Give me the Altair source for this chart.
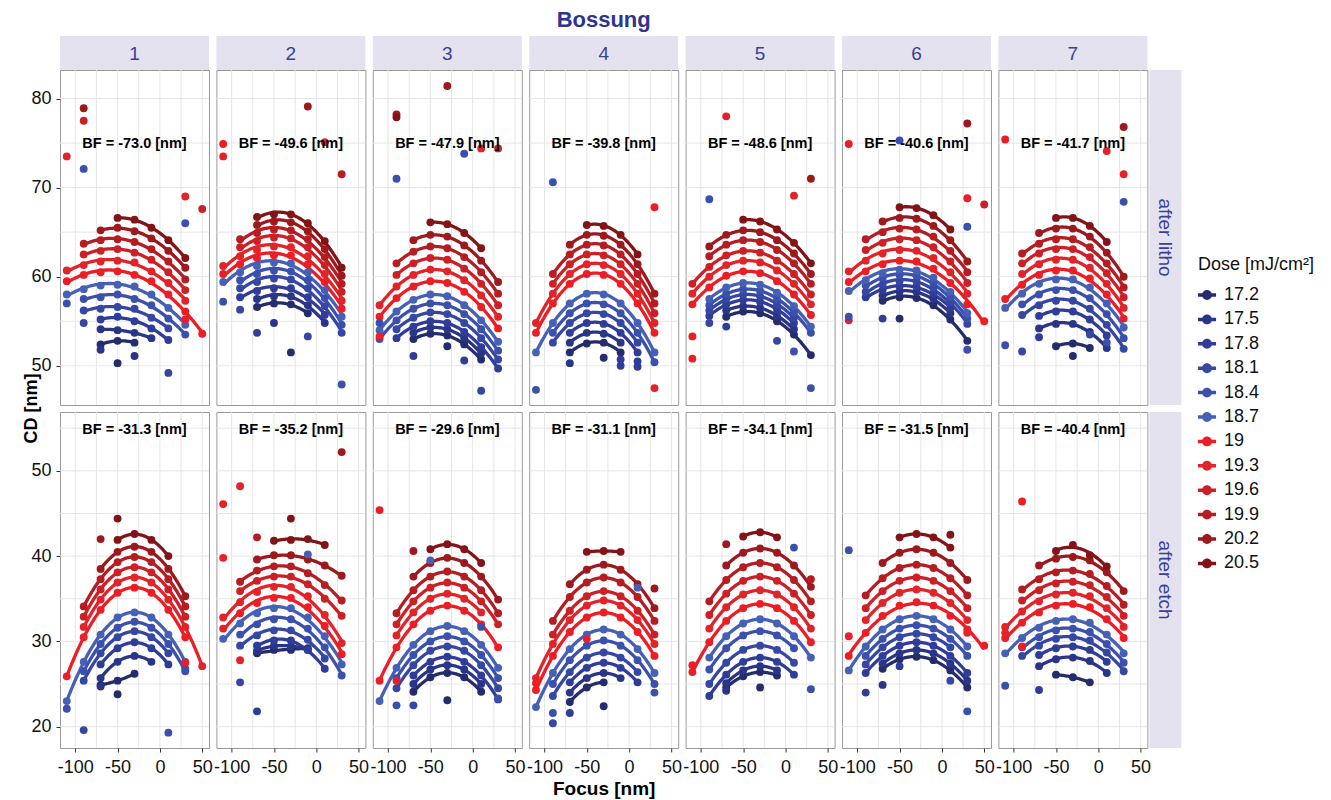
import altair as alt
import pandas as pd

N = None
FOCUS = [-110, -90, -70, -50, -30, -10, 10, 30, 50]
DOSES = ["17.2", "17.5", "17.8", "18.1", "18.4", "18.7", "19", "19.3", "19.6", "19.9", "20.2", "20.5"]
COLORS = ["#252C6B", "#2A3488", "#2F3D98", "#3546A3", "#3B50AD", "#4660B6",
          "#EC1D25", "#E0242A", "#CC2027", "#B51D23", "#9C191E", "#821418"]
PANELS = ["1", "2", "3", "4", "5", "6", "7"]
STAGES = ["after litho", "after etch"]
BF_LITHO = [-73.0, -49.6, -47.9, -39.8, -48.6, -40.6, -41.7]
BF_ETCH = [-31.3, -35.2, -29.6, -31.1, -34.1, -31.5, -40.4]

# CD [nm] per dose (rows 17.2 ... 20.5) at FOCUS points
LITHO_1 = [
    [N, N, 52.4, 52.8, 52.6, N, N, N, N],
    [N, N, 54.1, 54.0, 53.7, 53.1, N, N, N],
    [N, N, 55.2, 55.5, 55.0, 54.2, 52.9, N, N],
    [N, 56.2, 56.4, 56.6, 56.4, 55.4, 54.2, N, N],
    [N, 57.5, 57.7, 58.0, 57.5, 56.8, 55.3, 53.5, N],
    [58.0, 58.6, 59.0, 59.1, 58.9, 58.0, 56.5, 54.6, N],
    [59.5, 60.2, 60.5, 60.6, 60.2, 59.5, 58.0, 56.1, 53.6],
    [60.7, 61.3, 61.7, 61.8, 61.6, 60.6, 59.3, 57.3, N],
    [N, 62.5, 62.9, 63.1, 62.7, 61.9, 60.5, 58.5, N],
    [N, 63.7, 64.1, 64.2, 63.9, 63.1, 61.7, 59.7, N],
    [N, N, 65.2, 65.5, 65.1, 64.3, 62.9, 61.0, N],
    [N, N, N, 66.6, 66.4, 65.5, 64.1, 62.1, N],
]
LITHO_2 = [
    [N, N, 56.6, 57.0, 56.9, 55.9, N, N, N],
    [N, N, 57.5, 57.8, 57.8, 56.8, 54.8, N, N],
    [N, 57.7, 58.4, 58.7, 58.7, 57.7, 55.7, N, N],
    [N, 58.7, 59.4, 59.8, 59.7, 58.7, 56.7, 53.7, N],
    [N, 59.6, 60.3, 60.7, 60.6, 59.6, 57.6, 54.6, N],
    [59.4, 60.5, 61.2, 61.6, 61.5, 60.5, 58.5, 55.5, N],
    [60.3, 61.4, 62.1, 62.4, 62.4, 61.4, 59.4, 56.4, N],
    [61.2, 62.3, 63.0, 63.4, 63.3, 62.3, 60.3, 57.3, N],
    [N, 63.3, 64.0, 64.4, 64.3, 63.3, 61.3, 58.3, N],
    [N, 64.2, 64.9, 65.3, 65.2, 64.2, 62.2, 59.2, N],
    [N, N, 65.8, 66.2, 66.1, 65.1, 63.1, 60.1, N],
    [N, N, 66.7, 67.0, 67.0, 66.0, 64.0, 61.0, N],
]
LITHO_3 = [
    [N, N, 53.0, 53.6, 53.4, 52.4, 50.7, N, N],
    [N, N, 53.7, 54.3, 54.1, 53.1, 51.4, N, N],
    [N, 53.1, 54.4, 55.0, 54.8, 53.8, 52.1, 49.7, N],
    [N, 54.1, 55.4, 56.0, 55.8, 54.8, 53.1, 50.7, N],
    [53.0, 55.1, 56.4, 57.0, 56.8, 55.8, 54.1, 51.7, N],
    [54.0, 56.1, 57.4, 58.0, 57.8, 56.8, 55.1, 52.7, N],
    [55.5, 57.6, 58.9, 59.5, 59.3, 58.3, 56.6, 54.2, N],
    [56.8, 58.9, 60.2, 60.8, 60.6, 59.6, 57.9, 55.5, N],
    [N, 60.2, 61.5, 62.1, 61.9, 60.9, 59.2, 56.8, N],
    [N, 61.5, 62.8, 63.4, 63.2, 62.2, 60.5, 58.1, N],
    [N, N, 64.1, 64.7, 64.5, 63.5, 61.8, 59.4, N],
    [N, N, N, 66.1, 65.9, 64.9, 63.2, N, N],
]
LITHO_4 = [
    [N, N, 51.5, 52.5, 52.6, 51.5, N, N, N],
    [N, N, 52.6, 53.7, 53.6, 52.6, N, N, N],
    [N, N, 53.7, 54.8, 54.7, 53.7, 51.5, N, N],
    [N, 52.6, 54.8, 55.9, 55.8, 54.8, 52.6, N, N],
    [N, 53.7, 55.9, 57.0, 56.9, 55.9, 53.7, 50.4, N],
    [51.5, 54.8, 57.0, 58.1, 58.0, 57.0, 54.8, 51.5, N],
    [53.7, 57.0, 59.2, 60.3, 60.2, 59.2, 57.0, 53.7, N],
    [54.8, 58.1, 60.3, 61.4, 61.3, 60.3, 58.1, 54.8, N],
    [N, 59.2, 61.4, 62.5, 62.4, 61.4, 59.2, 55.9, N],
    [N, 60.3, 62.5, 63.6, 63.5, 62.5, 60.3, 57.0, N],
    [N, N, 63.6, 64.7, 64.6, 63.6, 61.4, 58.1, N],
    [N, N, N, 65.8, 65.7, 64.7, 62.5, N, N],
]
LITHO_5 = [
    [N, N, 55.5, 56.1, 55.9, 55.0, 53.5, 51.2, N],
    [N, N, 56.2, 56.7, 56.5, 55.6, 54.1, N, N],
    [N, 55.6, 56.9, 57.4, 57.2, 56.3, 54.8, N, N],
    [N, 56.2, 57.5, 58.0, 57.8, 56.9, 55.4, N, N],
    [N, 56.8, 58.1, 58.6, 58.4, 57.5, 56.0, 53.7, N],
    [N, 57.5, 58.8, 59.3, 59.1, 58.2, 56.7, 54.4, N],
    [56.9, 58.8, 60.1, 60.6, 60.4, 59.5, 58.0, 55.7, N],
    [58.1, 60.0, 61.3, 61.8, 61.6, 60.7, 59.2, 56.9, N],
    [59.2, 61.1, 62.4, 62.9, 62.7, 61.8, 60.3, 58.0, N],
    [N, 62.3, 63.6, 64.1, 63.9, 63.0, 61.5, 59.2, N],
    [N, 63.4, 64.7, 65.2, 65.0, 64.1, 62.6, 60.3, N],
    [N, N, N, 66.4, 66.2, 65.3, 63.8, 61.5, N],
]
LITHO_6 = [
    [N, N, 57.3, 57.7, 57.6, 56.8, 55.2, 52.8, N],
    [N, N, 57.9, 58.3, 58.3, 57.5, 55.9, N, N],
    [N, 57.7, 58.5, 58.9, 58.9, 58.1, 56.5, N, N],
    [N, 58.3, 59.1, 59.5, 59.5, 58.7, 57.1, 54.7, N],
    [N, 59.0, 59.8, 60.2, 60.1, 59.3, 57.7, 55.3, N],
    [58.4, 59.6, 60.4, 60.8, 60.7, 59.9, 58.3, 55.9, N],
    [59.4, 60.6, 61.4, 61.8, 61.7, 60.9, 59.3, 56.9, 55.0],
    [60.6, 61.8, 62.6, 63.0, 62.9, 62.1, 60.5, 58.1, N],
    [N, 63.0, 63.8, 64.2, 64.1, 63.3, 61.7, 59.3, N],
    [N, 64.2, 65.0, 65.4, 65.3, 64.5, 62.9, 60.5, N],
    [N, N, 66.2, 66.6, 66.5, 65.7, 64.1, 61.7, N],
    [N, N, N, 67.8, 67.7, 66.9, 65.3, N, N],
]
LITHO_7 = [
    [N, N, N, 52.2, 52.5, 52.0, N, N, N],
    [N, N, 54.2, 54.7, 54.7, 53.8, 52.0, N, N],
    [N, N, 55.6, 56.1, 56.1, 55.2, 53.4, N, N],
    [N, 55.7, 56.8, 57.3, 57.3, 56.4, 54.6, 51.9, N],
    [N, 56.9, 58.0, 58.5, 58.5, 57.6, 55.8, 53.1, N],
    [56.5, 58.1, 59.2, 59.7, 59.7, 58.8, 57.0, 54.3, N],
    [57.5, 59.1, 60.2, 60.7, 60.7, 59.8, 58.0, 55.3, N],
    [N, 60.3, 61.4, 61.9, 61.9, 61.0, 59.2, 56.5, N],
    [N, 61.5, 62.6, 63.1, 63.1, 62.2, 60.4, 57.7, N],
    [N, 62.6, 63.7, 64.2, 64.2, 63.3, 61.5, 58.8, N],
    [N, N, 64.9, 65.4, 65.4, 64.5, 62.7, 60.0, N],
    [N, N, N, 66.6, 66.6, 65.7, 63.9, N, N],
]
ETCH_1 = [
    [N, N, 24.9, 25.4, 26.2, N, N, N, N],
    [N, N, 25.7, 27.6, 28.3, 27.6, N, N, N],
    [N, N, 27.3, 29.2, 29.9, 29.2, 27.3, N, N],
    [N, 25.4, 28.6, 30.5, 31.2, 30.5, 28.6, N, N],
    [N, 26.5, 29.7, 31.6, 32.3, 31.6, 29.7, 26.5, N],
    [23.0, 27.6, 30.8, 32.8, 33.4, 32.8, 30.8, 27.6, N],
    [25.9, 30.5, 33.7, 35.7, 36.3, 35.7, 33.7, 30.5, N],
    [N, 31.7, 34.9, 36.9, 37.5, 36.9, 34.9, 31.7, 27.1],
    [N, 32.9, 36.1, 38.1, 38.7, 38.1, 36.1, 32.9, N],
    [N, 34.1, 37.3, 39.3, 39.9, 39.3, 37.3, 34.1, N],
    [N, N, 38.5, 40.5, 41.1, 40.5, 38.5, 35.3, N],
    [N, N, N, 41.9, 42.6, 41.9, 40.0, N, N],
]
ETCH_2 = [
    [N, N, 28.6, 29.0, 29.0, 29.2, N, N, N],
    [N, N, 28.9, 29.5, 29.4, 29.0, N, N, N],
    [N, N, 29.5, 30.1, 30.1, 29.0, 26.8, N, N],
    [N, 29.5, 30.7, 31.3, 31.3, 30.2, 28.0, N, N],
    [N, 30.8, 32.0, 32.6, 32.6, 31.5, 29.3, 26.0, N],
    [30.3, 32.1, 33.3, 33.9, 33.9, 32.8, 30.6, 27.3, N],
    [31.5, 33.3, 34.5, 35.1, 35.1, 34.0, 31.8, 28.5, N],
    [32.8, 34.6, 35.8, 36.4, 36.4, 35.3, 33.1, 29.8, N],
    [N, 35.9, 37.1, 37.6, 37.6, 36.7, 35.0, 33.0, N],
    [N, 37.0, 38.3, 38.8, 38.8, 38.0, 36.6, 34.8, N],
    [N, N, 39.6, 40.1, 40.1, 39.6, 38.9, 37.7, N],
    [N, N, N, 41.8, 41.9, 42.0, 41.3, N, N],
]
ETCH_3 = [
    [N, N, 24.1, 25.8, 26.3, 25.8, 24.1, N, N],
    [N, N, 25.0, 26.7, 27.2, 26.7, 25.0, N, N],
    [N, N, 26.0, 27.6, 28.2, 27.6, 26.0, 23.2, N],
    [N, 24.5, 27.2, 28.9, 29.4, 28.9, 27.2, 24.5, N],
    [N, 25.7, 28.4, 30.0, 30.6, 30.0, 28.4, 25.7, N],
    [23.0, 26.9, 29.6, 31.2, 31.8, 31.2, 29.6, 26.9, N],
    [25.4, 29.3, 32.0, 33.6, 34.2, 33.6, 32.0, 29.3, N],
    [N, 30.7, 33.4, 35.0, 35.6, 35.0, 33.4, N, N],
    [N, 32.0, 34.7, 36.3, 36.9, 36.3, 34.7, 32.0, N],
    [N, 33.3, 36.0, 37.6, 38.2, 37.6, 36.0, 33.3, N],
    [N, N, 37.6, 39.2, 39.8, 39.2, 37.6, 34.9, N],
    [N, N, N, 40.8, 41.4, 40.8, 39.2, N, N],
]
ETCH_4 = [
    [N, N, 22.9, 24.6, 25.2, N, N, N, N],
    [N, N, 24.0, 25.7, 26.3, 25.7, N, N, N],
    [N, N, 25.2, 26.9, 27.5, 26.9, 25.2, N, N],
    [N, 23.6, 26.4, 28.1, 28.7, 28.1, 26.4, N, N],
    [N, 25.0, 27.8, 29.5, 30.1, 29.5, 27.8, 25.0, N],
    [22.3, 26.3, 29.1, 30.8, 31.4, 30.8, 29.1, 26.3, N],
    [24.3, 28.3, 31.1, 32.8, 33.4, 32.8, 31.1, 28.3, N],
    [25.7, 29.7, 32.5, 34.2, 34.8, 34.2, 32.5, 29.7, N],
    [N, 30.8, 33.6, 35.3, 35.9, 35.3, 33.6, 30.8, N],
    [N, 32.4, 35.2, 36.9, 37.5, 36.9, 35.2, 32.4, N],
    [N, N, 36.7, 38.4, 39.0, 38.4, 36.7, 33.9, N],
    [N, N, N, 40.5, 40.6, 40.5, N, N, N],
]
ETCH_5 = [
    [N, N, 24.6, 25.9, 26.4, 26.0, N, N, N],
    [N, N, 25.1, 26.6, 27.1, 26.6, N, N, N],
    [N, 23.6, 26.1, 27.6, 28.1, 27.6, 26.1, N, N],
    [N, 25.0, 27.5, 29.0, 29.5, 29.0, 27.5, N, N],
    [N, 26.7, 29.2, 30.7, 31.2, 30.7, 29.2, N, N],
    [N, 28.1, 30.6, 32.1, 32.6, 32.1, 30.6, 28.1, N],
    [26.4, 29.9, 32.4, 33.9, 34.4, 33.9, 32.4, 29.9, N],
    [N, 31.5, 34.0, 35.5, 36.0, 35.5, 34.0, 31.5, N],
    [N, 33.1, 35.6, 37.1, 37.6, 37.1, 35.6, 33.1, N],
    [N, 34.7, 37.2, 38.7, 39.2, 38.7, 37.2, 34.7, N],
    [N, N, 38.9, 40.4, 40.9, 40.4, 38.9, 36.4, N],
    [N, N, N, 42.3, 42.8, 42.2, N, N, N],
]
ETCH_6 = [
    [N, N, 26.8, 27.9, 28.2, 27.8, 26.6, 24.6, N],
    [N, N, 27.4, 28.6, 29.0, 28.6, 27.4, 25.4, N],
    [N, 26.3, 28.3, 29.5, 29.9, 29.5, 28.3, 26.3, N],
    [N, 27.3, 29.3, 30.5, 30.9, 30.5, 29.3, N, N],
    [N, 28.3, 30.3, 31.5, 31.9, 31.5, 30.3, 28.3, N],
    [26.6, 29.4, 31.4, 32.6, 33.0, 32.6, 31.4, 29.4, N],
    [28.3, 31.0, 33.0, 34.2, 34.6, 34.2, 33.0, 31.0, 29.5],
    [N, 32.5, 34.5, 35.7, 36.1, 35.7, 34.5, 32.5, N],
    [N, 33.9, 35.9, 37.1, 37.5, 37.1, 35.9, 33.9, N],
    [N, 35.4, 37.4, 38.6, 39.0, 38.6, 37.4, 35.4, N],
    [N, N, 39.2, 40.4, 40.8, 40.4, 39.2, 37.2, N],
    [N, N, N, 42.2, 42.6, 42.2, 41.0, N, N],
]
ETCH_7 = [
    [N, N, N, 26.1, 25.8, 25.2, N, N, N],
    [N, N, 27.1, 27.9, 28.1, 27.7, 26.3, N, N],
    [N, N, 28.4, 29.2, 29.4, 29.0, 27.6, N, N],
    [N, 28.3, 29.5, 30.3, 30.5, 30.1, 28.7, 26.5, N],
    [N, 29.3, 30.5, 31.3, 31.5, 31.1, 29.7, 27.5, N],
    [28.6, 30.4, 31.6, 32.4, 32.6, 32.2, 30.8, 28.6, N],
    [30.4, 32.2, 33.4, 34.2, 34.4, 34.0, 32.6, 30.4, N],
    [31.7, 33.5, 34.7, 35.5, 35.7, 35.3, 33.9, 31.7, N],
    [N, 34.8, 36.0, 36.8, 37.0, 36.6, 35.2, 33.0, N],
    [N, 36.1, 37.3, 38.1, 38.3, 37.9, 36.5, 34.3, N],
    [N, N, 38.9, 39.7, 39.9, 39.5, 38.1, 35.9, N],
    [N, N, N, 40.6, 41.3, 40.1, 38.8, N, N],
]

# points left out of the fits: (focus, dose, CD)
LITHO_OUT_1 = [(-110, "19.3", 73.5), (-90, "20.2", 78.9), (-90, "19.6", 77.5), (-90, "18.4", 72.1),
               (30, "19.3", 69.0), (50, "19.6", 67.6), (30, "18.4", 66.0), (-110, "18.4", 57.0),
               (-90, "18.1", 54.8), (-70, "17.5", 51.8), (-50, "17.2", 50.3), (-30, "17.5", 51.1),
               (10, "18.1", 49.2), (30, "19", 55.2)]
LITHO_OUT_2 = [(-110, "19", 74.9), (-110, "19.3", 73.5), (-10, "20.2", 79.1), (10, "19.3", 75.1),
               (30, "19.9", 71.5), (-70, "17.8", 53.7), (-50, "17.5", 54.8), (-30, "17.2", 51.5),
               (-10, "18.1", 53.3), (30, "18.4", 47.9), (-110, "18.4", 57.2), (-90, "18.1", 56.3)]
LITHO_OUT_3 = [(-30, "20.2", 81.4), (-90, "20.2", 78.2), (-90, "20.5", 77.9), (-90, "18.4", 71.0),
               (-10, "18.4", 73.8), (10, "19.3", 74.4), (30, "19.6", 74.4), (-110, "19", 53.3),
               (-70, "17.8", 51.1), (-30, "17.2", 52.2), (-10, "17.8", 50.6), (10, "18.1", 47.2),
               (-110, "18.4", 54.8)]
LITHO_OUT_4 = [(-90, "18.4", 70.6), (30, "19", 67.8), (30, "19", 47.5), (-110, "18.4", 47.3),
               (-70, "17.5", 50.3), (-30, "17.2", 50.9), (-10, "17.8", 50.7), (-10, "17.8", 50.0),
               (10, "17.8", 50.5), (10, "17.8", 49.9)]
LITHO_OUT_5 = [(-70, "19.3", 78.0), (-90, "18.4", 68.7), (10, "19.3", 69.1), (30, "20.2", 71.0),
               (-110, "19", 53.3), (-110, "19", 50.8), (-10, "18.1", 52.8), (10, "18.4", 51.6),
               (30, "18.4", 47.5), (-90, "18.1", 54.8), (-70, "17.8", 54.4)]
LITHO_OUT_6 = [(-110, "19", 74.9), (-50, "18.4", 75.3), (30, "20.2", 77.2), (30, "19", 68.8),
               (50, "19.6", 68.1), (30, "18.4", 65.6), (-110, "19", 55.1), (-110, "18.4", 55.5),
               (-70, "17.8", 55.3), (-50, "17.2", 55.3), (30, "18.4", 51.8)]
LITHO_OUT_7 = [(-110, "19", 75.4), (10, "19.3", 74.1), (30, "20.2", 76.8), (30, "19.3", 71.5),
               (30, "18.4", 68.4), (-110, "18.4", 52.3), (-90, "18.1", 51.6), (-10, "18.1", 53.5),
               (10, "18.4", 52.6), (-30, "17.2", 51.1), (-70, "17.8", 53.2)]
ETCH_OUT_1 = [(-110, "18.4", 22.1), (-90, "18.1", 19.6), (10, "18.4", 19.3), (-50, "20.5", 44.4),
              (-70, "20.2", 42.0), (30, "18.4", 26.8), (30, "19", 27.5), (-70, "17.5", 24.7),
              (-50, "17.2", 23.8)]
ETCH_OUT_2 = [(-110, "19", 46.1), (-90, "19.3", 48.2), (-110, "19", 39.8), (30, "20.2", 52.2),
              (-30, "20.5", 44.4), (-70, "19.9", 42.2), (-90, "19", 27.8), (-90, "18.1", 25.2),
              (-70, "17.8", 21.8), (-10, "18.7", 40.2)]
ETCH_OUT_3 = [(-110, "19", 45.4), (-70, "20.2", 40.6), (-90, "18.4", 22.5), (-70, "18.1", 22.5),
              (-30, "17.2", 23.1), (30, "18.4", 23.3), (-50, "18.7", 39.5), (10, "18.4", 31.7),
              (-90, "19", 25.4)]
ETCH_OUT_4 = [(-90, "18.4", 21.6), (-90, "18.1", 20.4), (-70, "17.8", 21.6), (-30, "17.2", 22.4),
              (30, "18.4", 24.0), (30, "20.2", 36.2), (-50, "19", 30.3), (10, "18.7", 36.3),
              (-110, "19", 25.1)]
ETCH_OUT_5 = [(-70, "20.2", 41.4), (10, "18.4", 41.0), (-70, "17.5", 24.2), (30, "18.4", 24.4),
              (30, "19.9", 37.3), (-30, "17.2", 24.6), (-110, "19", 27.2)]
ETCH_OUT_6 = [(-110, "18.4", 40.7), (-110, "19", 30.6), (-90, "17.8", 24.0), (-70, "17.5", 24.9),
              (-50, "17.8", 27.1), (10, "18.1", 25.4), (30, "18.4", 21.8), (10, "20.5", 42.5),
              (30, "19.3", 31.4)]
ETCH_OUT_7 = [(-90, "19", 46.4), (-110, "18.4", 24.8), (-70, "17.8", 24.3), (-90, "19", 29.4),
              (-110, "19.3", 31.0)]

LITHO = [LITHO_1, LITHO_2, LITHO_3, LITHO_4, LITHO_5, LITHO_6, LITHO_7]
ETCH = [ETCH_1, ETCH_2, ETCH_3, ETCH_4, ETCH_5, ETCH_6, ETCH_7]
LITHO_OUT = [LITHO_OUT_1, LITHO_OUT_2, LITHO_OUT_3, LITHO_OUT_4, LITHO_OUT_5, LITHO_OUT_6, LITHO_OUT_7]
ETCH_OUT = [ETCH_OUT_1, ETCH_OUT_2, ETCH_OUT_3, ETCH_OUT_4, ETCH_OUT_5, ETCH_OUT_6, ETCH_OUT_7]

rows = []
for stage, mats, outs in [("litho", LITHO, LITHO_OUT), ("etch", ETCH, ETCH_OUT)]:
    for p in range(7):
        for di, r in enumerate(mats[p]):
            for f, v in zip(FOCUS, r):
                if v is not None:
                    rows.append(dict(stage=stage, panel=p + 1, focus=f, dose=DOSES[di], cd=v, out=0))
        for f, d, v in outs[p]:
            rows.append(dict(stage=stage, panel=p + 1, focus=f, dose=d, cd=v, out=1))
df = pd.DataFrame(rows)

# ---- layout / style ----
W, HT, HB = 149, 335, 336
XD = [-118, 58]
YD = {"litho": [45.6, 83.2], "etch": [17.5, 56.9]}
YTICKS = {"litho": [50, 60, 70, 80], "etch": [20, 30, 40, 50]}
YGRID = {"litho": [50, 55, 60, 65, 70, 75, 80], "etch": [20, 25, 30, 35, 40, 45, 50, 55]}
XGRID = [-100, -75, -50, -25, 0, 25, 50]
STRIP_FILL = "#E4E2EF"
STRIP_TEXT = "#3A3E97"
TITLE_COL = "#2E3490"
FONT = "Liberation Sans"
LABEL_EXPR = "toString(datum.value)"

LEG_PATH = ("M-1.25,-0.24L1.25,-0.24L1.25,0.24L-1.25,0.24Z "
            "M0.68,0A0.68,0.68 0 1,1 -0.68,0A0.68,0.68 0 1,1 0.68,0Z")

COLOR = alt.Color(
    "dose:N",
    scale=alt.Scale(domain=DOSES, range=COLORS),
    legend=alt.Legend(
        title="Dose [mJ/cm²]", orient="none", legendX=1138, legendY=186,
        symbolType=LEG_PATH, symbolSize=210, symbolStrokeWidth=0, symbolOpacity=1,
        labelFontSize=18, titleFontSize=18, titleFontWeight="normal",
        labelColor="#111111", titleColor="#111111", rowPadding=6.4, titlePadding=12,
        labelOffset=8,
    ),
)


def panel(stage, p):
    top = stage == "litho"
    H = HT if top else HB
    if top:
        xaxis = None
    else:
        xkw = dict(values=[-100, -50, 0, 50], grid=False, domain=False, labelFontSize=18,
                   labelColor="#111111", tickColor="#333333", tickSize=4, labelPadding=6,
                   labelFlush=False, labelExpr=LABEL_EXPR)
        if p == 4:
            xaxis = alt.Axis(title="Focus [nm]", titleFontSize=19, titleFontWeight="bold",
                             titleColor="#000000", titlePadding=3, **xkw)
        else:
            xaxis = alt.Axis(title=None, **xkw)
    if p == 1:
        yaxis = alt.Axis(values=YTICKS[stage], title=None, grid=False, domain=False,
                         labelFontSize=18, labelColor="#111111", tickColor="#333333",
                         tickSize=4, labelPadding=5, labelExpr=LABEL_EXPR)
    else:
        yaxis = None
    X = alt.X("focus:Q", scale=alt.Scale(domain=XD, nice=False, zero=False), axis=xaxis)
    Y = alt.Y("cd:Q", scale=alt.Scale(domain=YD[stage], nice=False, zero=False), axis=yaxis)

    base = alt.Chart(df).transform_filter(
        f"datum.stage == '{stage}' && datum.panel == {p}")

    gx = alt.Chart(pd.DataFrame({"focus": XGRID})).mark_rule(
        color="#E6E6E6", strokeWidth=1).encode(x=X)
    gy = alt.Chart(pd.DataFrame({"cd": YGRID[stage]})).mark_rule(
        color="#E6E6E6", strokeWidth=1).encode(y=Y)

    lines = base.transform_filter("datum.out == 0").transform_regression(
        on="focus", regression="cd", groupby=["dose"], method="poly", order=2
    ).mark_line(strokeWidth=3.3, strokeCap="butt").encode(x=X, y=Y, color=COLOR)

    pts = base.mark_circle(size=62, opacity=1).encode(x=X, y=Y, color=COLOR)

    bf = (BF_LITHO if top else BF_ETCH)[p - 1]
    bf_df = pd.DataFrame({"focus": [-30], "cd": [74.9 if top else 54.8],
                          "t": [f"BF = {bf:.1f} [nm]"]})
    bft = alt.Chart(bf_df).mark_text(fontSize=14.5, fontWeight="bold", color="#000000").encode(
        x=X, y=Y, text="t:N")

    layers = [gx, gy, lines, pts, bft]

    if top:
        sdf = pd.DataFrame({"t": [PANELS[p - 1]]})
        layers.append(alt.Chart(sdf).mark_rect(fill=STRIP_FILL).encode(
            x=alt.value(0), x2=alt.value(W), y=alt.value(-34), y2=alt.value(0)))
        layers.append(alt.Chart(sdf).mark_text(fontSize=19, color=STRIP_TEXT).encode(
            x=alt.value(W / 2), y=alt.value(-16), text="t:N"))
        if p == 4:
            layers.append(alt.Chart(pd.DataFrame({"t": ["Bossung"]})).mark_text(
                fontSize=22, fontWeight="bold", color=TITLE_COL).encode(
                x=alt.value(W / 2), y=alt.value(-50), text="t:N"))
        if p == 1:
            layers.append(alt.Chart(pd.DataFrame({"t": ["CD [nm]"]})).mark_text(
                fontSize=18, fontWeight="bold", color="#000000", angle=270).encode(
                x=alt.value(-28), y=alt.value(HT + 3.5), text="t:N"))
    if p == 7:
        sdf = pd.DataFrame({"t": [STAGES[0] if top else STAGES[1]]})
        layers.append(alt.Chart(sdf).mark_rect(fill=STRIP_FILL).encode(
            x=alt.value(W + 2), x2=alt.value(W + 34), y=alt.value(0), y2=alt.value(H)))
        layers.append(alt.Chart(sdf).mark_text(fontSize=19, color=STRIP_TEXT, angle=90).encode(
            x=alt.value(W + 18), y=alt.value(H / 2), text="t:N"))

    return alt.layer(*layers).properties(width=W, height=H)


charts = [panel("litho", p) for p in range(1, 8)] + [panel("etch", p) for p in range(1, 8)]

chart = alt.ConcatChart(
    concat=charts, columns=7, spacing={"row": 7, "column": 7.4}, bounds="flush"
).properties(
    padding={"left": 14, "top": 0, "right": 5, "bottom": 5}
).configure(font=FONT).configure_view(stroke="#9A9A9A", strokeWidth=1)

chart.save("out.html", embed_options={"renderer": "svg", "actions": False})
